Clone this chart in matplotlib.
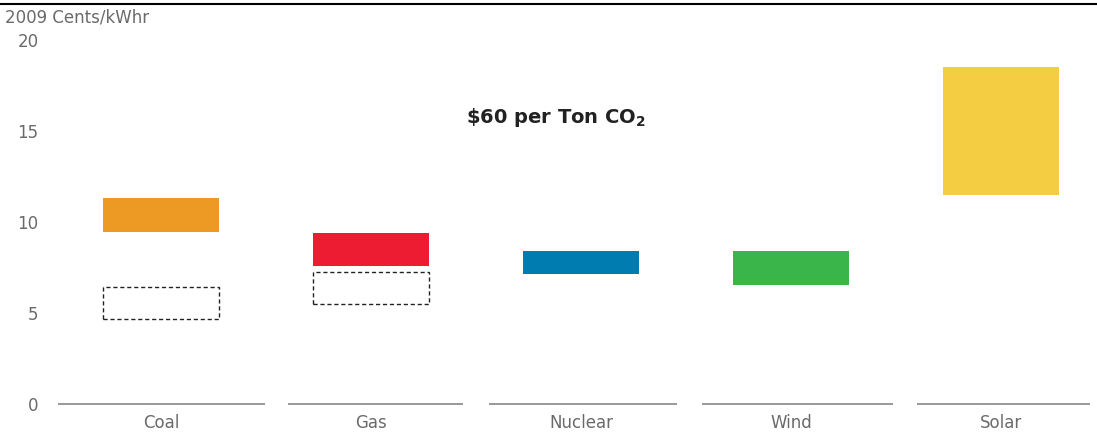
import matplotlib.pyplot as plt
from matplotlib.patches import Rectangle
from matplotlib.lines import Line2D

plt.rcParams['font.family'] = ['DejaVu Sans']

# ------------------------------
# Cost ranges, 2009 cents per kWh
# ------------------------------
categories = ['Coal', 'Gas', 'Nuclear', 'Wind', 'Solar']
low_with_co2 = [9.45, 7.6, 7.15, 6.55, 11.5]
high_with_co2 = [11.3, 9.4, 8.4, 8.4, 18.5]
colors = ['#EC9A23', '#EE1C33', '#007CB1', '#3AB54A', '#F5CD43']

# ranges without the carbon price (fossil only)
base_categories = ['Coal', 'Gas']
base_low = [4.65, 5.5]
base_high = [6.45, 7.25]

yticks = [0, 5, 10, 15, 20]
title = r'\$60 per Ton CO$_\mathregular{2}$'
unit_label = '2009 Cents/kWhr'

GRAY = '#6a6a6a'
BAR_W = 0.55
# extent of the baseline rule under each category, relative to its centre
SEG_LEFT = [-0.49, -0.395, -0.44, -0.425, -0.40]
SEG_RIGHT = [0.495, 0.44, 0.455, 0.485, 0.425]

fig = plt.figure(figsize=(10.97, 4.34), dpi=100)
ax = fig.add_axes([58 / 1097, 30 / 434, 1034 / 1097, 364 / 434])
ax.set_xlim(-0.49, 4.433)
ax.set_ylim(0, 20)

x = list(range(len(categories)))
ax.bar(x, [h - l for h, l in zip(high_with_co2, low_with_co2)], bottom=low_with_co2,
       width=BAR_W, color=colors, linewidth=0)

# dashed outline boxes for the no-carbon-price ranges
for name, lo, hi in zip(base_categories, base_low, base_high):
    i = categories.index(name)
    ax.add_patch(Rectangle((i - BAR_W / 2, lo), BAR_W, hi - lo, fill=False,
                           edgecolor='#222222', linestyle=(0, (3, 2)), linewidth=1.0))

# short baseline segment under each category
for i, l, r in zip(x, SEG_LEFT, SEG_RIGHT):
    ax.plot([i + l, i + r], [0, 0], color='#999999', linewidth=1.4,
            solid_capstyle='butt', clip_on=False)

for s in ax.spines.values():
    s.set_visible(False)
ax.set_yticks(yticks)
ax.set_xticks(x)
ax.set_xticklabels(categories)
ax.tick_params(axis='both', length=0, colors=GRAY, labelsize=12)
ax.tick_params(axis='y', pad=14)
ax.tick_params(axis='x', pad=7)

ax.text(1.88, 15.75, title, ha='center', va='center', fontsize=14,
        fontweight='bold', color='#222222')

fig.text(5 / 1097, 1 - 17 / 434, unit_label, ha='left', va='center',
         fontsize=12, color=GRAY)

# rule along the top edge
fig.add_artist(Line2D([0, 1], [1 - 4 / 434, 1 - 4 / 434], color='black',
                      linewidth=1.5, transform=fig.transFigure))

fig.savefig('out.png', dpi=100)
